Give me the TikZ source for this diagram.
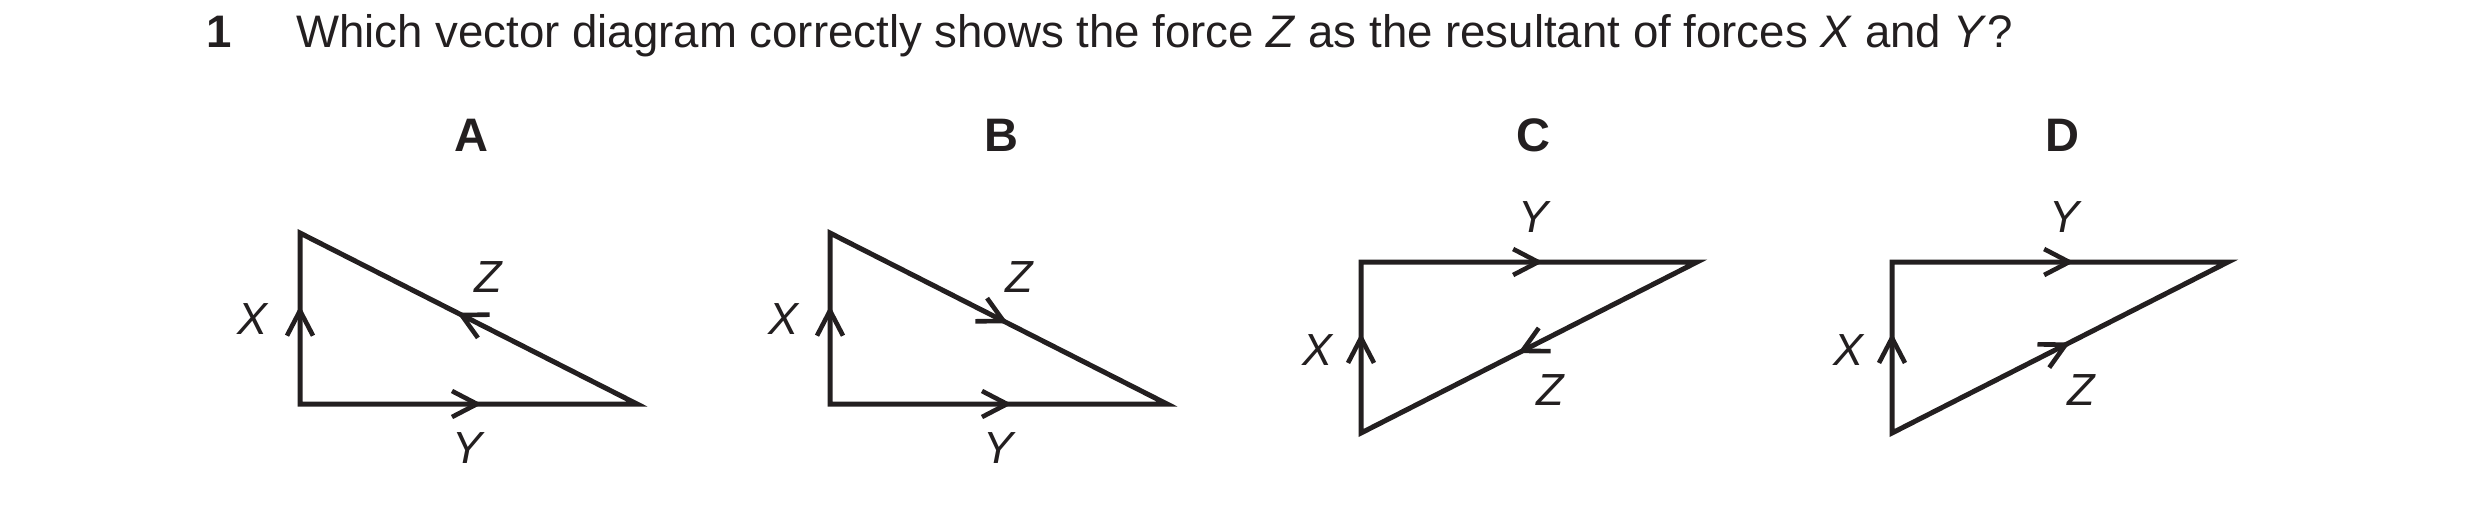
\documentclass[tikz,border=0pt]{standalone}
\usepackage{fontspec}
\setmainfont{Liberation Sans}
\usetikzlibrary{arrows.meta,decorations.markings}
\definecolor{ink}{HTML}{231F20}
\tikzset{
  side/.style={draw=ink, line width=5pt, line join=miter},
  arrowat/.style={line width=4.6pt, color=ink, postaction={decorate},
    decoration={markings, mark=at position #1 with {\arrow{Straight Barb[length=25pt,width=26pt,line cap=butt]}}}},
  lbl/.style={inner sep=0pt, text=ink, font=\fontsize{45}{54}\selectfont\itshape},
  opt/.style={inner sep=0pt, text=ink, font=\fontsize{47}{56}\selectfont\bfseries},
  ttl/.style={inner sep=0pt, text=ink, anchor=base west, font=\fontsize{45.6}{54}\selectfont},
}
\begin{document}
\begin{tikzpicture}[x=1pt,y=-1pt]
\useasboundingbox (0,0) rectangle (2480,504);
\node[ttl, font=\fontsize{45.6}{54}\selectfont\bfseries] (num) at (206,47) {1};
\node[ttl] (q) at (296,47) {Which vector diagram correctly shows the force \textit{Z} as the resultant of forces \textit{X} and \textit{Y}?};

% ---------- A ----------
\begin{scope}[shift={(300,0)}]
  \node[opt] (labA) at (171,135) {A};
  \coordinate (aO) at (0,404);
  \coordinate (aT) at (0,233);
  \coordinate (aR) at (337,404);
  \draw[side] (aO) -- (aT) -- (aR) -- cycle;
  \path[arrowat=0.575] (aO) -- (aT);
  \path[arrowat=0.540] (aO) -- (aR);
  \path[arrowat=0.534] (aR) -- (aT);
  \node[lbl] (aX) at (-47,319) {X};
  \node[lbl] (aZ) at (188,277) {Z};
  \node[lbl] (aY) at (168,448) {Y};
\end{scope}

% ---------- B ----------
\begin{scope}[shift={(830,0)}]
  \node[opt] (labB) at (171,135) {B};
  \coordinate (bO) at (0,404);
  \coordinate (bT) at (0,233);
  \coordinate (bR) at (337,404);
  \draw[side] (bO) -- (bT) -- (bR) -- cycle;
  \path[arrowat=0.575] (bO) -- (bT);
  \path[arrowat=0.540] (bO) -- (bR);
  \path[arrowat=0.528] (bT) -- (bR);
  \node[lbl] (bX) at (-47,319) {X};
  \node[lbl] (bZ) at (189,277) {Z};
  \node[lbl] (bY) at (168,448) {Y};
\end{scope}

% ---------- C ----------
\begin{scope}[shift={(1361,0)}]
  \node[opt] (labC) at (172,135) {C};
  \coordinate (cO) at (0,262);
  \coordinate (cR) at (336,262);
  \coordinate (cB) at (0,433);
  \draw[side] (cB) -- (cO) -- (cR) -- cycle;
  \path[arrowat=0.585] (cB) -- (cO);
  \path[arrowat=0.542] (cO) -- (cR);
  \path[arrowat=0.533] (cR) -- (cB);
  \node[lbl] (cY) at (172,217) {Y};
  \node[lbl] (cX) at (-44,350) {X};
  \node[lbl] (cZ) at (189,390) {Z};
\end{scope}

% ---------- D ----------
\begin{scope}[shift={(1892,0)}]
  \node[opt] (labD) at (170,135) {D};
  \coordinate (dO) at (0,262);
  \coordinate (dR) at (336,262);
  \coordinate (dB) at (0,433);
  \draw[side] (dB) -- (dO) -- (dR) -- cycle;
  \path[arrowat=0.585] (dB) -- (dO);
  \path[arrowat=0.542] (dO) -- (dR);
  \path[arrowat=0.530] (dB) -- (dR);
  \node[lbl] (dY) at (172,217) {Y};
  \node[lbl] (dX) at (-44,350) {X};
  \node[lbl] (dZ) at (189,390) {Z};
\end{scope}
\end{tikzpicture}
\end{document}
